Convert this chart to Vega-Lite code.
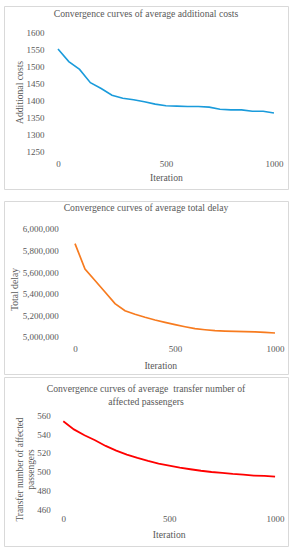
{
  "$schema": "https://vega.github.io/schema/vega-lite/v6.json",
  "background": "white",
  "padding": {"left": 3, "top": 5, "right": 0, "bottom": 0},
  "config": {
    "font": "Liberation Serif",
    "view": {"stroke": "#d9d9d9", "strokeWidth": 1},
    "axis": {
      "grid": false, "domain": false, "ticks": false,
      "labelFont": "Liberation Serif", "labelFontSize": 9, "labelColor": "#595959", "labelPadding": 2,
      "titleFont": "Liberation Serif", "titleFontSize": 9.7, "titleColor": "#595959", "titleFontWeight": "normal",
      "titleAlign": "center", "titleBaseline": "middle"
    },
    "title": {"font": "Liberation Serif", "fontSize": 9.7, "fontWeight": "normal", "color": "#595959", "frame": "group", "anchor": "middle", "baseline": "middle"}
  },
  "datasets": {
    "cost": [
      {"iter": 0, "value": 1552}, {"iter": 50, "value": 1515}, {"iter": 100, "value": 1492},
      {"iter": 150, "value": 1453}, {"iter": 200, "value": 1436}, {"iter": 250, "value": 1416},
      {"iter": 300, "value": 1407}, {"iter": 350, "value": 1403}, {"iter": 400, "value": 1397},
      {"iter": 450, "value": 1390}, {"iter": 500, "value": 1385}, {"iter": 550, "value": 1384},
      {"iter": 600, "value": 1383}, {"iter": 650, "value": 1383}, {"iter": 700, "value": 1381},
      {"iter": 750, "value": 1375}, {"iter": 800, "value": 1373}, {"iter": 850, "value": 1373},
      {"iter": 900, "value": 1369}, {"iter": 950, "value": 1369}, {"iter": 1000, "value": 1364}
    ],
    "delay": [
      {"iter": 0, "value": 5862000}, {"iter": 50, "value": 5628000}, {"iter": 100, "value": 5522000},
      {"iter": 150, "value": 5415000}, {"iter": 200, "value": 5308000}, {"iter": 250, "value": 5243000},
      {"iter": 300, "value": 5210000}, {"iter": 350, "value": 5182000}, {"iter": 400, "value": 5157000},
      {"iter": 450, "value": 5135000}, {"iter": 500, "value": 5115000}, {"iter": 550, "value": 5095000},
      {"iter": 600, "value": 5077000}, {"iter": 650, "value": 5067000}, {"iter": 700, "value": 5058000},
      {"iter": 750, "value": 5055000}, {"iter": 800, "value": 5052000}, {"iter": 850, "value": 5050000},
      {"iter": 900, "value": 5047000}, {"iter": 950, "value": 5043000}, {"iter": 1000, "value": 5037000}
    ],
    "transfer": [
      {"iter": 0, "value": 553.6}, {"iter": 50, "value": 545}, {"iter": 100, "value": 538.7},
      {"iter": 150, "value": 533.4}, {"iter": 200, "value": 527.4}, {"iter": 250, "value": 522.4},
      {"iter": 300, "value": 518.2}, {"iter": 350, "value": 514.6}, {"iter": 400, "value": 511.4},
      {"iter": 450, "value": 508.6}, {"iter": 500, "value": 506.5}, {"iter": 550, "value": 504.3},
      {"iter": 600, "value": 502.6}, {"iter": 650, "value": 501}, {"iter": 700, "value": 499.7},
      {"iter": 750, "value": 498.7}, {"iter": 800, "value": 497.6}, {"iter": 850, "value": 496.9},
      {"iter": 900, "value": 495.8}, {"iter": 950, "value": 495.5}, {"iter": 1000, "value": 494.8}
    ]
  },
  "spacing": 1,
  "vconcat": [
    {
      "spacing": 10,
      "vconcat": [
        {
          "width": 284, "height": 183,
          "title": {"text": "Convergence curves of average additional costs", "offset": -12.3},
          "data": {"name": "cost"},
          "mark": {"type": "line", "color": "#1a9bdb", "strokeWidth": 1.6},
          "encoding": {
            "x": {"field": "iter", "type": "quantitative",
              "scale": {"domain": [-250, 1065], "nice": false, "zero": false},
              "axis": {"values": [0, 500, 1000], "format": "d", "offset": -31.5, "title": "Iteration", "titleX": 162, "titleY": 19.5}},
            "y": {"field": "value", "type": "quantitative",
              "scale": {"domain": [1140.3, 1678.5], "nice": false, "zero": false},
              "axis": {"values": [1250, 1300, 1350, 1400, 1450, 1500, 1550, 1600], "format": "d", "offset": -42, "title": "Additional costs", "titleAngle": 270, "titleX": -26.5, "titleY": 86}}
          }
        },
        {
          "width": 284, "height": 173,
          "title": {"text": "Convergence curves of average total delay", "offset": -12},
          "data": {"name": "delay"},
          "mark": {"type": "line", "color": "#f77b1f", "strokeWidth": 1.7},
          "encoding": {
            "x": {"field": "iter", "type": "quantitative",
              "scale": {"domain": [-355, 1065], "nice": false, "zero": false},
              "axis": {"values": [0, 500, 1000], "format": "d", "offset": -31.5, "title": "Iteration", "titleX": 156.3, "titleY": 23.2}},
            "y": {"field": "value", "type": "quantitative",
              "scale": {"domain": [4658356, 6255770], "nice": false, "zero": false},
              "axis": {"values": [5000000, 5200000, 5400000, 5600000, 5800000, 6000000], "format": ",d", "offset": -56.3, "title": "Total delay", "titleAngle": 270, "titleX": -46, "titleY": 88}}
          }
        }
      ]
    },
    {
      "width": 284, "height": 169,
      "title": {"text": ["Convergence curves of average\u00a0 transfer number of", "affected passengers"], "offset": -29.7, "lineHeight": 12.6},
      "data": {"name": "transfer"},
      "mark": {"type": "line", "color": "#ff0000", "strokeWidth": 1.8},
      "encoding": {
        "x": {"field": "iter", "type": "quantitative",
          "scale": {"domain": [-280, 1061], "nice": false, "zero": false},
          "axis": {"values": [0, 500, 1000], "format": "d", "offset": -33.8, "title": "Iteration", "titleX": 164.7, "titleY": 22.5}},
        "y": {"field": "value", "type": "quantitative",
          "scale": {"domain": [421, 600.7], "nice": false, "zero": false},
          "axis": {"values": [460, 480, 500, 520, 540, 560], "format": "d", "offset": -48.3, "title": ["Transfer number of affected", "passengers"], "titleLineHeight": 11.7, "titleFontSize": 9.3, "titleAngle": 270, "titleX": -33, "titleY": 92}}
      }
    }
  ]
}
